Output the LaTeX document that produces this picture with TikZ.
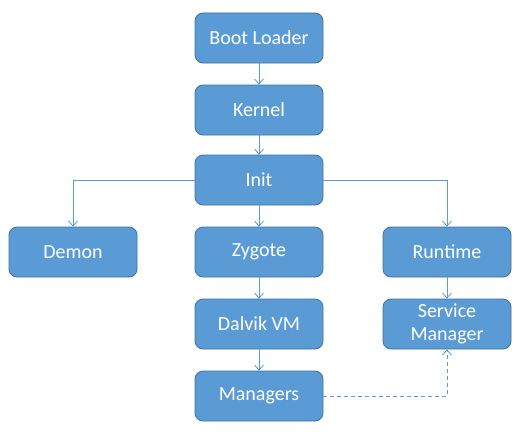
\documentclass[tikz,border=0pt]{standalone}
\usepackage{fontspec}
\setmainfont{Carlito}
\usetikzlibrary{arrows.meta}
\definecolor{caja}{HTML}{5B9BD5}
\definecolor{borde}{HTML}{41719C}
\begin{document}
\begin{tikzpicture}[x=1pt,y=-1pt,
  bloque/.style={draw=borde, fill=caja, rounded corners=8pt, line width=0.8pt,
    minimum width=128pt, minimum height=50pt, text=white, align=center,
    inner sep=1pt, font=\fontsize{20}{23}\selectfont},
  flecha/.style={draw=caja, line width=0.8pt, -{Straight Barb[length=5pt,width=9pt]}}]
\useasboundingbox (0,0) rectangle (521,436);

% Columna central
\node[bloque] (boot) at (259,38) {Boot Loader};
\node[bloque] (kernel) at (259,110) {Kernel};
\node[bloque] (init) at (259,180) {Init};
\node[bloque] (zygote) at (259,252) {Zygote};
\node[bloque] (dalvik) at (259,324) {Dalvik VM};
\node[bloque] (managers) at (259,396) {Managers};

% Ramas a los lados
\node[bloque] (demon) at (73,252) {Demon};
\node[bloque] (runtime) at (447,252) {Runtime};
\node[bloque] (service) at (447,324) {Service\\Manager};

% Flechas
\draw[flecha] (boot) -- (kernel);
\draw[flecha] (kernel) -- (init);
\draw[flecha] (init) -- (zygote);
\draw[flecha] (init.west) -| (demon.north);
\draw[flecha] (init.east) -| (runtime.north);
\draw[flecha] (runtime) -- (service);
\draw[flecha] (zygote) -- (dalvik);
\draw[flecha] (dalvik) -- (managers);

% Esta va punteada
\draw[flecha, dash pattern=on 4pt off 3pt] (managers.east) -| (service.south);
\end{tikzpicture}
\end{document}
